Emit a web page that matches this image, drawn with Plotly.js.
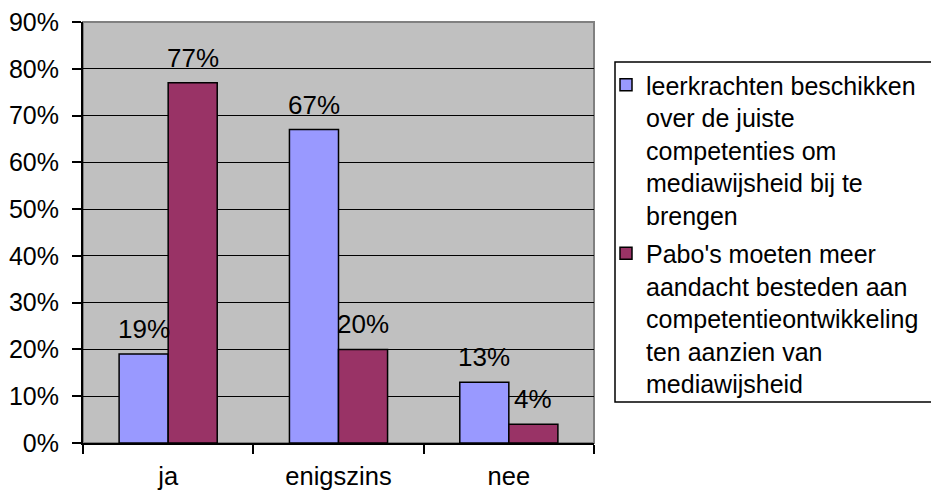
<!DOCTYPE html>
<html>
<head>
<meta charset="utf-8">
<script src="https://cdn.plot.ly/plotly-3.0.1.min.js"></script>
<style>html,body{margin:0;padding:0;background:#fff;}#chart{width:931px;height:493px;}</style>
</head>
<body>
<div id="chart"></div>
<script>
const categories = ["ja", "enigszins", "nee"];
const seriesNames = [
  "leerkrachten beschikken<br>over de juiste<br>competenties om<br>mediawijsheid bij te<br>brengen",
  "Pabo's moeten meer<br>aandacht besteden aan<br>competentieontwikkeling<br>ten aanzien van<br>mediawijsheid"
];
const leerkrachten = [0.19, 0.67, 0.13];
const pabo = [0.77, 0.20, 0.04];
const yTickVals = [0, 0.1, 0.2, 0.3, 0.4, 0.5, 0.6, 0.7, 0.8, 0.9];

const FONT = "Liberation Sans, Arial, sans-serif";
const colors = ["#9999FF", "#993366"];
const series = [leerkrachten, pabo];

const traces = series.map((vals, i) => ({
  type: "bar",
  name: seriesNames[i],
  legendgroup: "g" + i,
  x: categories,
  y: vals,
  marker: {color: colors[i], line: {color: "#000000", width: 1.5}},
  hoverinfo: "skip"
}));

const annotations = [];
series.forEach((vals, i) => {
  vals.forEach((v, j) => {
    annotations.push({
      x: categories[j], y: v, xref: "x", yref: "y",
      text: Math.round(v * 100) + "%",
      showarrow: false,
      xshift: i === 0 ? -24.5 : 24.5,
      yshift: 25,
      yanchor: "middle",
      font: {family: FONT, size: 26, color: "#000"}
    });
  });
});

const layout = {
  width: 931, height: 493,
  margin: {l: 83, r: 337, t: 22, b: 50, autoexpand: false},
  paper_bgcolor: "#ffffff",
  plot_bgcolor: "#C0C0C0",
  font: {family: FONT, size: 25, color: "#000"},
  barmode: "group",
  bargap: 0.424,
  bargroupgap: 0,
  showlegend: true,
  legend: {
    x: (606 - 83) / 511, y: (443 - 62) / 421,
    xanchor: "left", yanchor: "top",
    bgcolor: "rgba(0,0,0,0)", borderwidth: 0,
    font: {family: FONT, size: 25, color: "#000"},
    itemwidth: 30,
    valign: "top",
    tracegroupgap: 3
  },
  xaxis: {
    type: "category",
    showline: true, linecolor: "#000", linewidth: 2,
    ticks: "outside", tickson: "boundaries", ticklen: 9, tickwidth: 2, tickcolor: "#000",
    showgrid: false, zeroline: false,
    ticklabelstandoff: 9,
    tickfont: {family: FONT, size: 25.5, color: "#000"},
    fixedrange: true
  },
  yaxis: {
    range: [0, 0.9],
    tickvals: yTickVals,
    tickformat: ".0%",
    showline: true, linecolor: "#000", linewidth: 2,
    ticks: "outside", ticklen: 9, tickwidth: 2, tickcolor: "#000",
    showgrid: true, gridcolor: "#000", gridwidth: 1,
    zeroline: false,
    ticklabelstandoff: 8,
    tickfont: {family: FONT, size: 25, color: "#000"},
    fixedrange: true
  },
  shapes: [
    {type: "rect", xref: "paper", yref: "paper", x0: 0, x1: 1, y0: 0, y1: 1,
     line: {color: "#808080", width: 2}, fillcolor: "rgba(0,0,0,0)", layer: "below"},
    {type: "rect", xref: "paper", yref: "paper",
     x0: (615 - 83) / 511, x1: (945 - 83) / 511,
     y0: (443 - 402) / 421, y1: (443 - 62) / 421,
     line: {color: "#000", width: 1.5}, fillcolor: "rgba(0,0,0,0)"}
  ],
  annotations: annotations
};

Plotly.newPlot("chart", traces, layout, {displayModeBar: false, staticPlot: true});
</script>
</body>
</html>
